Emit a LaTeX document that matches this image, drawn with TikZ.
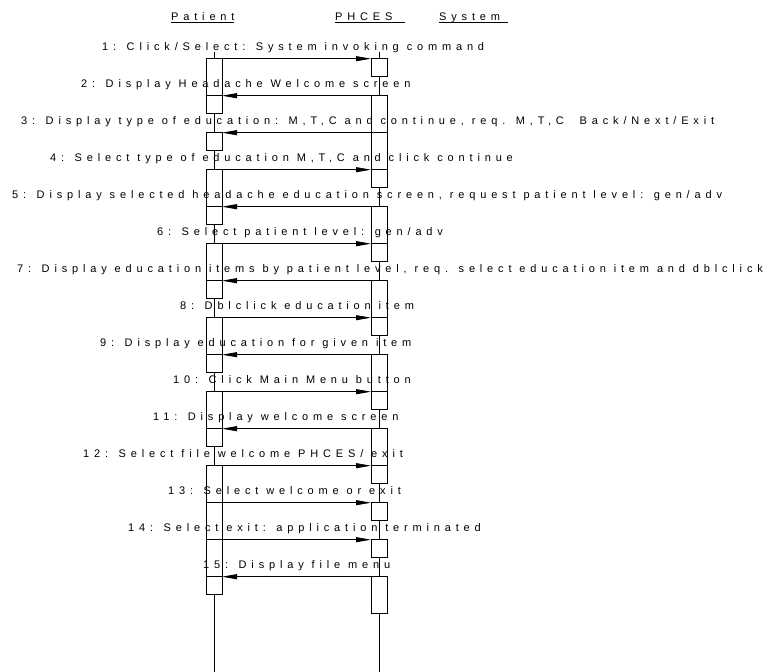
\documentclass[tikz,border=0pt]{standalone}
\usepackage{fontspec}
\setmainfont{Liberation Sans}[LetterSpace=44]
\usetikzlibrary{arrows.meta}
\begin{document}
\begin{tikzpicture}[x=1bp,y=-1bp,
  lbl/.style={anchor=base west, inner sep=0pt, font=\fontsize{11bp}{13bp}\selectfont},
  act/.style={draw, fill=white, line width=0.8bp, minimum width=16bp, inner sep=0pt, outer sep=0pt, anchor=north},
  msg/.style={line width=0.8bp, -{Triangle[length=15bp,width=5bp]}},
  life/.style={line width=0.8bp}]
\useasboundingbox (0,0) rectangle (769,672);
% object headers
\node[lbl] (hp) at (171,21) {\underline{\makebox[63bp][l]{\smash{Patient}}}};
\node[lbl] (hs) at (335,21) {\underline{\makebox[70bp][l]{\smash{PHCES}}}\hspace*{34bp}\underline{\makebox[69bp][l]{\smash{System}}}};
% lifelines
\coordinate (pl0) at (214,52);
\coordinate (pl1) at (214,672);
\coordinate (sl0) at (379,52);
\coordinate (sl1) at (379,672);
\draw[life] (pl0) -- (pl1);
\draw[life] (sl0) -- (sl1);
% activation boxes and messages
\foreach \i/\d in {1/r,2/l,3/l,4/r,5/l,6/r,7/l,8/r,9/l,10/r,11/l,12/r,13/r,14/r,15/l}{
  \pgfmathsetmacro\yy{58.7+37*(\i-1)}
  \if r\d
    \node[act, minimum height=37bp] (pb\i) at (214,\yy) {};
    \node[act, minimum height=18bp] (sb\i) at (379,\yy) {};
    \draw[msg] (pb\i.north east) -- (sb\i.north west);
  \else
    \node[act, minimum height=37bp] (sb\i) at (379,\yy) {};
    \node[act, minimum height=18bp] (pb\i) at (214,\yy) {};
    \draw[msg] (sb\i.north west) -- (pb\i.north east);
  \fi
}
% message labels
\node[lbl] (l1) at (102,50.7) {1: Click/Select: System invoking command};
\node[lbl] (l2) at (81,87.7) {2: Display Headache Welcome screen};
\node[lbl] (l3) at (21,124.7) {3: Display type of education: M,T,C and continue, req. M,T,C\ \ Back/Next/Exit};
\node[lbl] (l4) at (50,161.7) {4: Select type of education M,T,C and click continue};
\node[lbl] (l5) at (12,198.7) {5: Display selected headache education screen, request patient level: gen/adv};
\node[lbl] (l6) at (157,235.7) {6: Select patient level: gen/adv};
\node[lbl] (l7) at (17,272.7) {7: Display education items by patient level, req. select education item and dblclick};
\node[lbl] (l8) at (180,309.7) {8: Dblclick education item};
\node[lbl] (l9) at (100,346.7) {9: Display education for given item};
\node[lbl] (l10) at (173,383.7) {10: Click Main Menu button};
\node[lbl] (l11) at (153,420.7) {11: Display welcome screen};
\node[lbl] (l12) at (83,457.7) {12: Select file welcome PHCES/ exit};
\node[lbl] (l13) at (168,494.7) {13: Select welcome or exit};
\node[lbl] (l14) at (128,531.7) {14: Select exit: application terminated};
\node[lbl] (l15) at (203,568.7) {15: Display file menu};
\end{tikzpicture}
\end{document}
